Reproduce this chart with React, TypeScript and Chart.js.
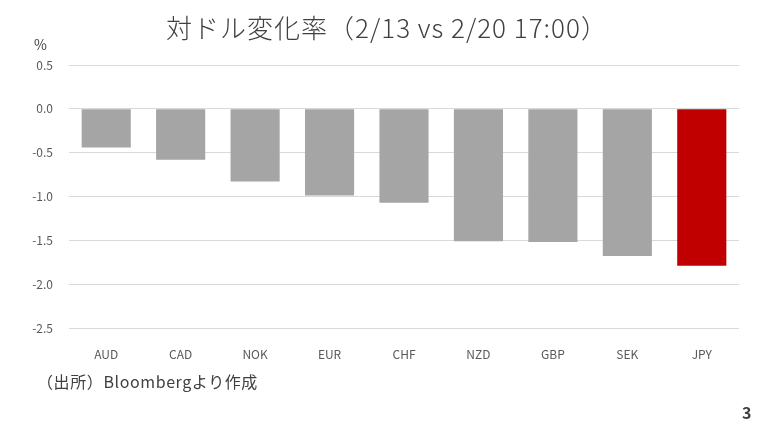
import { useEffect, useRef } from 'react';
import { Chart, registerables } from 'chart.js';

Chart.register(...registerables);

const currencies = ['AUD', 'CAD', 'NOK', 'EUR', 'CHF', 'NZD', 'GBP', 'SEK', 'JPY'];
const changes = [-0.44, -0.58, -0.83, -0.99, -1.07, -1.51, -1.52, -1.68, -1.79];
const barColors = ['#a5a5a5', '#a5a5a5', '#a5a5a5', '#a5a5a5', '#a5a5a5', '#a5a5a5', '#a5a5a5', '#a5a5a5', '#c00000'];

const FONT = '"Noto Sans CJK JP", "Noto Sans", sans-serif';

export default function App() {
  const canvasRef = useRef<HTMLCanvasElement>(null);
  const chartRef = useRef<Chart | null>(null);

  useEffect(() => {
    document.body.style.margin = '0';
    if (!canvasRef.current) return;
    if (chartRef.current) chartRef.current.destroy();

    chartRef.current = new Chart(canvasRef.current, {
      type: 'bar',
      data: {
        labels: currencies,
        datasets: [{
          data: changes,
          backgroundColor: barColors,
          categoryPercentage: 1,
          barPercentage: 0.66,
        }],
      },
      options: {
        animation: false,
        responsive: false,
        layout: { padding: { top: 65, right: 29, bottom: 0, left: 0 } },
        plugins: {
          legend: { display: false },
          tooltip: { enabled: false },
        },
        scales: {
          x: {
            grid: { display: false },
            border: { display: false },
            ticks: { color: '#595959', font: { family: FONT, size: 12 }, padding: 11 },
            afterFit: (s: any) => { s.height = 100; },
          },
          y: {
            min: -2.5,
            max: 0.5,
            grid: { color: '#d9d9d9', drawTicks: false, lineWidth: 1 },
            border: { display: false },
            ticks: {
              stepSize: 0.5,
              color: '#595959',
              padding: 16,
              font: { family: FONT, size: 12 },
              callback: (v: any) => Number(v).toFixed(1),
            },
            afterFit: (s: any) => { s.width = 69; },
          },
        },
      },
    });

    return () => { chartRef.current?.destroy(); chartRef.current = null; };
  }, []);

  return (
    <div style={{ position: 'relative', width: 768, height: 428, background: '#fff', fontFamily: FONT }}>
      <canvas ref={canvasRef} width={768} height={428} style={{ position: 'absolute', left: 0, top: 0 }} />
      <div style={{ position: 'absolute', left: 0, width: 768, top: 8, textAlign: 'center', fontSize: 26, fontWeight: 300, letterSpacing: 1, color: '#404040', paddingLeft: 6, boxSizing: 'border-box' }}>
        対ドル変化率（2/13 vs 2/20 17:00）
      </div>
      <div style={{ position: 'absolute', left: 34, top: 34, fontSize: 14, color: '#404040' }}>%</div>
      <div style={{ position: 'absolute', left: 37, top: 369, fontSize: 16, letterSpacing: 0.6, color: '#404040' }}>（出所）Bloombergより作成</div>
      <div style={{ position: 'absolute', left: 742, top: 400, fontSize: 16, fontWeight: 'bold', color: '#404040' }}>3</div>
    </div>
  );
}
